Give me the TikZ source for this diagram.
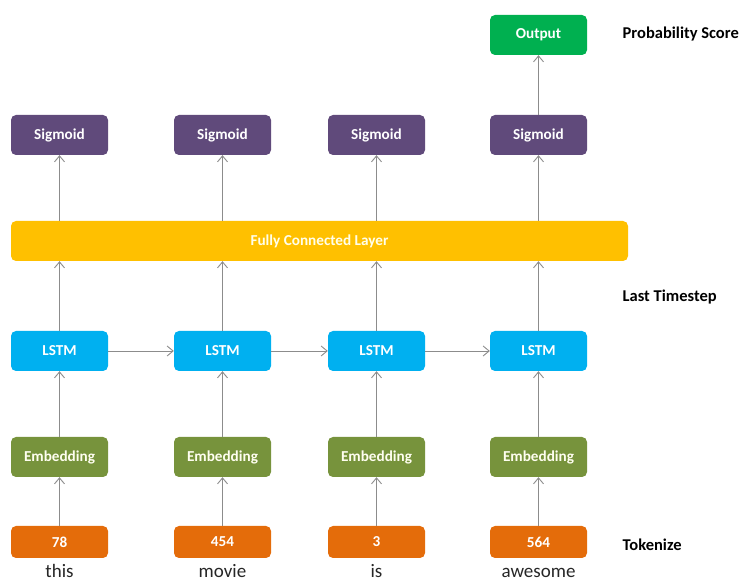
\documentclass[tikz,border=0pt]{standalone}
\usepackage{fontspec}
\setmainfont{Carlito}
\usetikzlibrary{arrows.meta}
\definecolor{sigc}{HTML}{604A7B}
\definecolor{outc}{HTML}{00B050}
\definecolor{fcc}{HTML}{FFC000}
\definecolor{lstmc}{HTML}{00B0F0}
\definecolor{embc}{HTML}{77933C}
\definecolor{tokc}{HTML}{E46C0A}
\definecolor{arrc}{HTML}{8C8C8C}
\tikzset{
  blk/.style={rectangle, rounded corners=5pt, minimum width=97pt, minimum height=40pt, inner sep=0pt,
    text=white, font=\fontsize{15.2}{17}\selectfont\bfseries},
  sigbox/.style={blk, fill=sigc},
  outbox/.style={blk, fill=outc},
  fcbox/.style={blk, fill=fcc, minimum width=617pt, text=white!92!yellow},
  lstmbox/.style={blk, fill=lstmc},
  embbox/.style={blk, fill=embc, text=white!94!yellow},
  tokbox/.style={blk, fill=tokc, minimum height=32pt},
  sidelabel/.style={anchor=west, inner sep=0pt, font=\fontsize{16.5}{18}\selectfont\bfseries, text=black},
  word/.style={anchor=base, inner sep=0pt, font=\fontsize{19}{21}\selectfont, text=black!85},
  conn/.style={draw=arrc, line width=0.9pt, -{Straight Barb[length=6pt,width=10pt,line width=0.9pt]}}
}
\begin{document}
\begin{tikzpicture}[x=1pt,y=1pt]
\useasboundingbox (0,0) rectangle (742,581);
% columns: 59.5, 222.5, 376.5, 538.5
\node[outbox] (out) at (538.5,546) {Output};
\node[sigbox] (s1) at (59.5,446) {Sigmoid};
\node[sigbox] (s2) at (222.5,446) {Sigmoid};
\node[sigbox] (s3) at (376.5,446) {Sigmoid};
\node[sigbox] (s4) at (538.5,446) {Sigmoid};
\node[fcbox] (fc) at (319.5,340) {Fully Connected Layer};
\node[lstmbox] (l1) at (59.5,230) {LSTM};
\node[lstmbox] (l2) at (222.5,230) {LSTM};
\node[lstmbox] (l3) at (376.5,230) {LSTM};
\node[lstmbox] (l4) at (538.5,230) {LSTM};
\node[embbox] (e1) at (59.5,124) {Embedding};
\node[embbox] (e2) at (222.5,124) {Embedding};
\node[embbox] (e3) at (376.5,124) {Embedding};
\node[embbox] (e4) at (538.5,124) {Embedding};
\node[tokbox] (t1) at (59.5,39) {78};
\node[tokbox] (t2) at (222.5,39) {454};
\node[tokbox] (t3) at (376.5,39) {3};
\node[tokbox] (t4) at (538.5,39) {564};
\node[word] (w1) at (59.5,3.5) {this};
\node[word] (w2) at (222.5,3.5) {movie};
\node[word] (w3) at (376.5,3.5) {is};
\node[word] (w4) at (538.5,3.5) {awesome};
\node[sidelabel] (lp) at (622.5,547) {Probability Score};
\node[sidelabel] (lt) at (622.5,283.5) {Last Timestep};
\node[sidelabel] (lk) at (622.5,36.5) {Tokenize};
% connectors
\draw[conn] (s4.north) -- (out.south);
\foreach \i in {1,2,3,4}{
  \draw[conn] (t\i.north) -- (e\i.south);
  \draw[conn] (e\i.north) -- (l\i.south);
  \draw[conn] (l\i.north) -- (l\i.north |- fc.south);
  \draw[conn] (s\i.south |- fc.north) -- (s\i.south);
}
\draw[conn] (l1.east) -- (l2.west);
\draw[conn] (l2.east) -- (l3.west);
\draw[conn] (l3.east) -- (l4.west);
\end{tikzpicture}
\end{document}
